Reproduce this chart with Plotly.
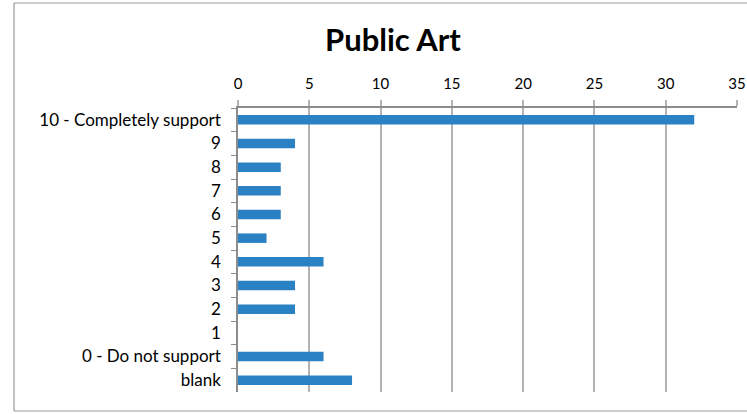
import plotly.graph_objects as go

categories = ["10 - Completely support", "9", "8", "7", "6", "5", "4", "3", "2", "1",
              "0 - Do not support", "blank"]
values = [32, 4, 3, 3, 3, 2, 6, 4, 4, 0, 6, 8]
x_ticks = [0, 5, 10, 15, 20, 25, 30, 35]

fig = go.Figure(go.Bar(
    y=categories, x=values, orientation="h",
    marker=dict(color="#2a81c3", line=dict(width=0)),
    width=0.4,
))

fig.update_layout(
    width=747, height=414,
    margin=dict(l=238, r=10, t=108, b=22, autoexpand=False),
    paper_bgcolor="white", plot_bgcolor="white",
    font=dict(family="Lato, Open Sans, sans-serif", size=15, color="#000000"),
    title=dict(text="<b>Public Art</b>", x=0.526, xanchor="center", y=0.903, yanchor="middle",
               font=dict(size=31, family="Lato, Open Sans, sans-serif", color="#000")),
    showlegend=False,
    bargap=0.6,
)
fig.update_xaxes(
    side="top", range=[0, 35], tickvals=x_ticks, automargin=False,
    showgrid=True, gridcolor="#b3b3b3", gridwidth=1.5,
    showline=True, linecolor="#8c8c8c", linewidth=1.5,
    ticks="outside", ticklen=6, tickcolor="#b3b3b3", tickwidth=1.5,
    ticklabelstandoff=5,
    zeroline=False, tickfont=dict(size=15),
)
fig.update_yaxes(
    type="category", categoryorder="array", categoryarray=categories,
    autorange="reversed", automargin=False,
    showline=True, linecolor="#8c8c8c", linewidth=1.5,
    ticks="outside", tickson="boundaries", ticklen=5, tickcolor="#8c8c8c",
    ticklabelstandoff=12,
    showgrid=False, tickfont=dict(size=17),
)
border = dict(color="#9a9a9a", width=1.2)
x_left, y_bot, y_top, x_far = -0.4489, -0.0669, 1.3697, 1.2
fig.add_shape(type="line", xref="paper", yref="paper", x0=x_left, x1=x_left,
              y0=y_bot, y1=y_top, line=border, layer="below")
fig.add_shape(type="line", xref="paper", yref="paper", x0=x_left, x1=x_far,
              y0=y_top, y1=y_top, line=border, layer="below")
fig.add_shape(type="line", xref="paper", yref="paper", x0=x_left, x1=x_far,
              y0=y_bot, y1=y_bot, line=border, layer="below")

fig.write_html("out.html", config={"displayModeBar": False},
               post_script="document.body.style.margin='0';")
